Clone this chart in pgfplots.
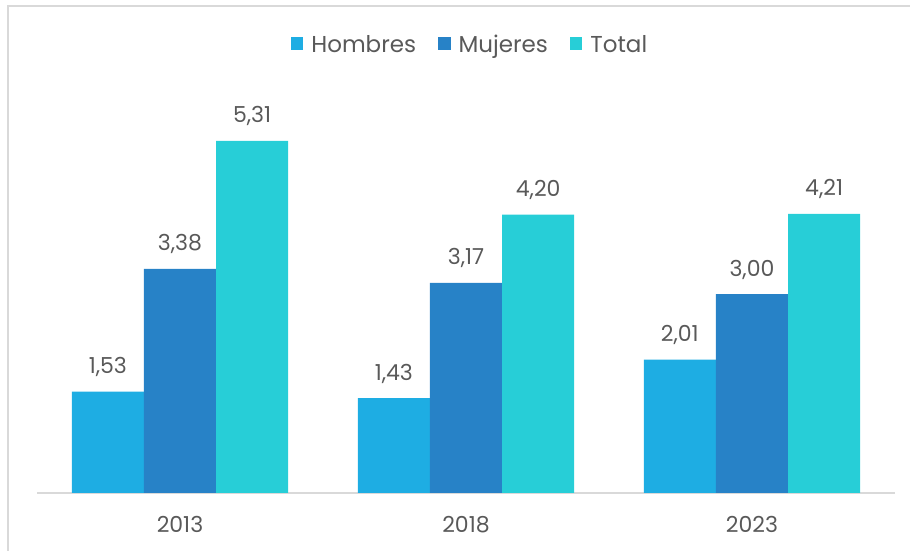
\documentclass[border=0pt]{standalone}
\usepackage{fontspec}
\setmainfont{Poppins}
\usepackage{pgfplots}
\pgfplotsset{compat=1.18}
\definecolor{cH}{HTML}{1EADE3}
\definecolor{cM}{HTML}{2782C7}
\definecolor{cT}{HTML}{27CED7}
\definecolor{txt}{HTML}{595959}
\definecolor{axl}{HTML}{D9D9D9}
\begin{document}
\begin{tikzpicture}[x=1pt,y=1pt]
\useasboundingbox (0,0) rectangle (910,551);
\draw[axl, line width=2pt] (7.5,-5) -- (7.5,545) -- (920,545);
\begin{axis}[
  at={(37pt,58pt)}, anchor=south west,
  scale only axis, width=858pt, height=431pt,
  xmin=-0.5, xmax=2.5, ymin=0, ymax=6.5,
  axis x line*=bottom, hide y axis,
  x axis line style={axl, line width=2pt, -},
  xtick={0,1,2}, xticklabels={2013,2018,2023},
  major tick length=0pt,
  xticklabel style={anchor=base, yshift=-40pt, font=\fontsize{22}{26}\selectfont, text=txt},
  nodes near coords={\pgfmathprintnumber[fixed,fixed zerofill,precision=2,use comma,assume math mode=true]{\pgfplotspointmeta}},
  nodes near coords style={anchor=base, yshift=18pt, font=\fontsize{22}{26}\selectfont, text=txt},
  legend image code/.code={\fill[#1] (0pt,-5pt) rectangle (12.5pt,7.5pt);},
  legend style={at={(0.5047,1.04)}, anchor=center, draw=none, fill=none, legend columns=-1,
    font=\fontsize{23}{27}\selectfont, text=txt,
    /tikz/every odd column/.append style={column sep=6pt},
    /tikz/every even column/.append style={column sep=20pt}},
  clip=false,
]
\addplot[ybar, bar width=0.2522, bar shift=-0.2522, fill=cH, draw=none,
  every node near coord/.append style={xshift=-72.15pt}] coordinates {(0,1.53) (1,1.43) (2,2.01)};
\addplot[ybar, bar width=0.2522, bar shift=0, fill=cM, draw=none] coordinates {(0,3.38) (1,3.17) (2,3.00)};
\addplot[ybar, bar width=0.2522, bar shift=0.2522, fill=cT, draw=none,
  every node near coord/.append style={xshift=72.15pt}] coordinates {(0,5.31) (1,4.20) (2,4.21)};
\legend{Hombres, Mujeres, Total}
\end{axis}
\end{tikzpicture}
\end{document}
